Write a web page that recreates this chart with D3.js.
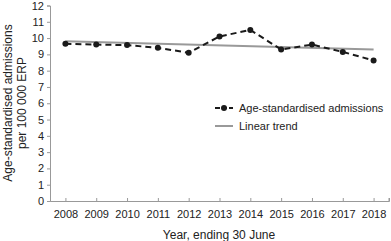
<!DOCTYPE html>
<html>
<head>
<meta charset="utf-8">
<script src="https://d3js.org/d3.v7.min.js"></script>
<style>
  body { margin: 0; background: #fff; }
  text { font-family: "Liberation Sans", Arial, sans-serif; fill: #222; }
</style>
</head>
<body>
<script>
const years = [2008, 2009, 2010, 2011, 2012, 2013, 2014, 2015, 2016, 2017, 2018];
const admissions = [9.65, 9.6, 9.57, 9.4, 9.1, 10.1, 10.5, 9.3, 9.6, 9.15, 8.63];
const trendEnds = [9.8, 9.3];
const yTicks = [0, 1, 2, 3, 4, 5, 6, 7, 8, 9, 10, 11, 12];

const width = 391, height = 241;
const mLeft = 50, mRight = 389, mTop = 5.5, mBottom = 201;

const svg = d3.select("body").append("svg")
    .attr("width", width)
    .attr("height", height);

const x = d3.scaleLinear().domain([2007.5, 2018.5]).range([mLeft, mRight]);
const y = d3.scaleLinear().domain([0, 12]).range([mBottom, mTop]);

// axes
const yAxis = svg.append("g")
    .attr("transform", `translate(${mLeft},0)`)
    .call(d3.axisLeft(y).tickValues(yTicks).tickSize(3).tickPadding(3).tickFormat(d3.format("d")));
const xAxis = svg.append("g")
    .attr("transform", `translate(0,${mBottom})`)
    .call(d3.axisBottom(x).tickValues(years).tickSize(-3).tickPadding(9).tickFormat(d3.format("d")));
xAxis.append("line")
    .attr("x1", mRight).attr("x2", mRight).attr("y1", 0).attr("y2", -3)
    .attr("stroke", "#999");
for (const g of [yAxis, xAxis]) {
    g.select(".domain").attr("stroke", "#999");
    g.selectAll(".tick line").attr("stroke", "#999");
    g.selectAll(".tick text")
        .style("font-family", '"Liberation Sans", Arial, sans-serif')
        .style("font-size", "11px").attr("fill", "#222");
}

// trend
svg.append("line")
    .attr("x1", x(years[0])).attr("y1", y(trendEnds[0]))
    .attr("x2", x(years[years.length - 1])).attr("y2", y(trendEnds[1]))
    .attr("stroke", "#999").attr("stroke-width", 2);

// series
const line = d3.line().x((d, i) => x(years[i])).y(d => y(d));
svg.append("path")
    .datum(admissions)
    .attr("d", line)
    .attr("fill", "none")
    .attr("stroke", "#1a1a1a")
    .attr("stroke-width", 2)
    .attr("stroke-dasharray", "6,4");
svg.selectAll("circle.pt")
    .data(admissions).join("circle")
    .attr("class", "pt")
    .attr("cx", (d, i) => x(years[i]))
    .attr("cy", d => y(d))
    .attr("r", 3)
    .attr("fill", "#1a1a1a");

// legend
const lg = svg.append("g").attr("transform", "translate(215,108)");
lg.append("line").attr("x1", 0).attr("x2", 18).attr("y1", 0).attr("y2", 0)
    .attr("stroke", "#1a1a1a").attr("stroke-width", 2).attr("stroke-dasharray", "5,2");
lg.append("circle").attr("cx", 9).attr("cy", 0).attr("r", 3).attr("fill", "#1a1a1a");
lg.append("text").attr("x", 24).attr("y", 4).style("font-size", "11px")
    .text("Age-standardised admissions");
lg.append("line").attr("x1", 0).attr("x2", 18).attr("y1", 18).attr("y2", 18)
    .attr("stroke", "#999").attr("stroke-width", 2);
lg.append("text").attr("x", 24).attr("y", 22).style("font-size", "11px")
    .text("Linear trend");

// titles
svg.append("text")
    .attr("x", 219).attr("y", 239)
    .attr("text-anchor", "middle")
    .style("font-size", "12px")
    .text("Year, ending 30 June");
const yt = svg.append("text")
    .attr("transform", "translate(0,103) rotate(-90)")
    .attr("text-anchor", "middle")
    .style("font-size", "12px");
yt.append("tspan").attr("x", 0).attr("y", 12).text("Age-standardised admissions");
yt.append("tspan").attr("x", 0).attr("y", 26).text("per 100 000 ERP");
</script>
</body>
</html>
